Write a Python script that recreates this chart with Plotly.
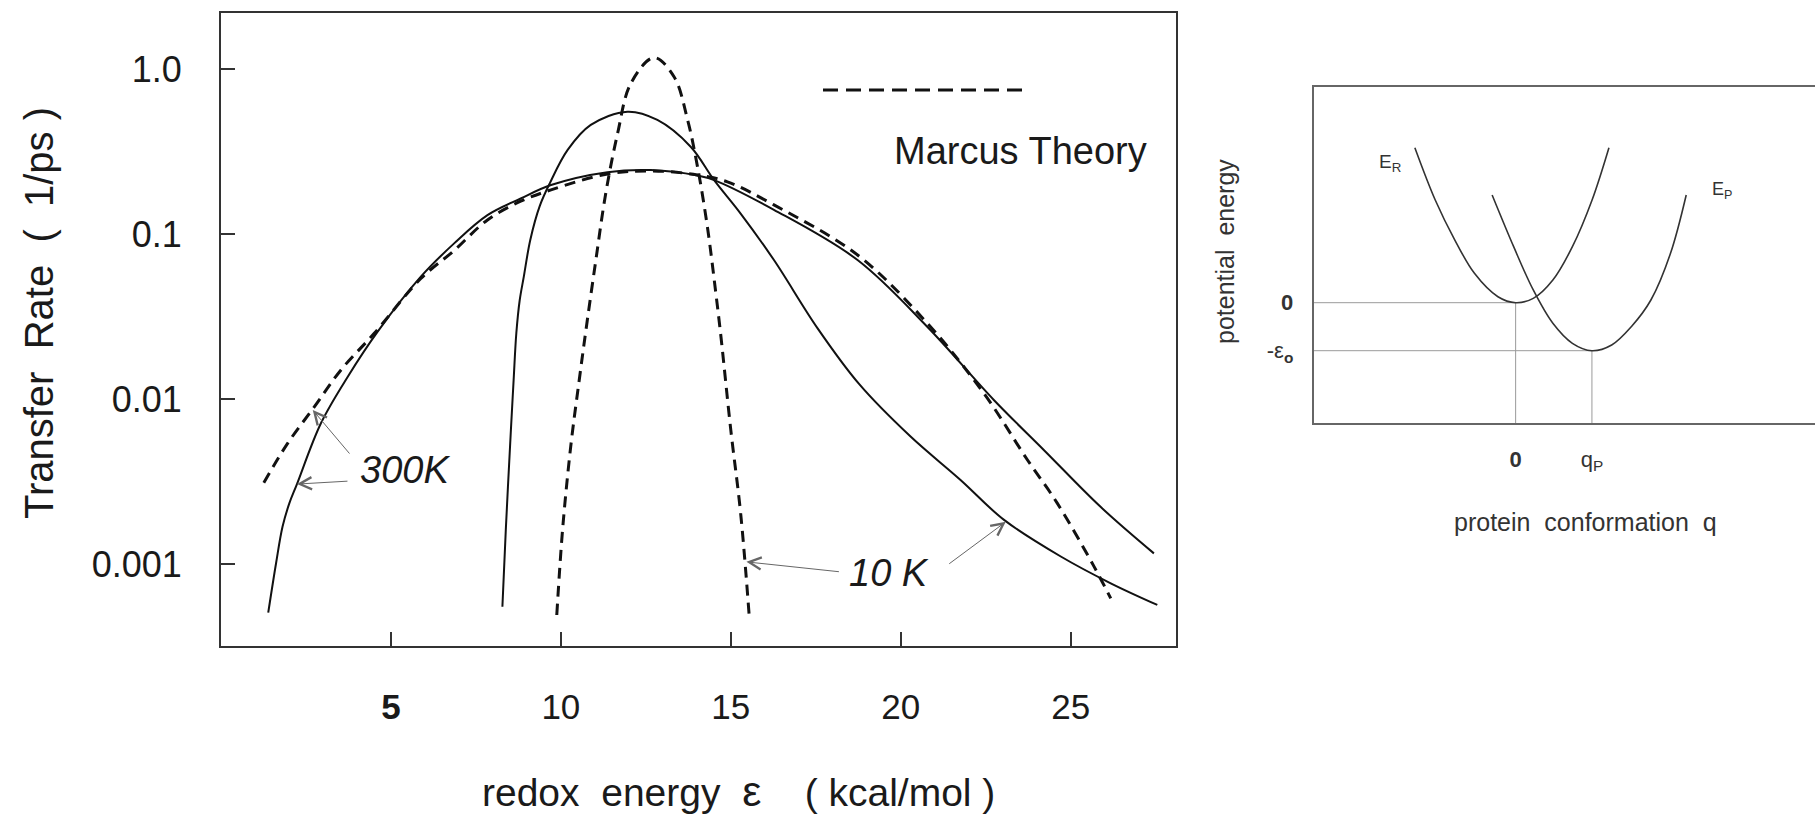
import numpy as np
import plotly.graph_objects as go

# ---------------- main panel data ----------------
# 300 K, simulation (solid)
eps_300K_sim = [1.39, 1.62, 1.81, 2.01, 2.235, 2.94, 3.73, 4.61, 5.88, 6.86, 7.84, 8.82, 9.71,
                11.37, 12.65, 14.02, 14.51, 16.27, 18.73, 20.78, 22.74, 24.21, 25.88, 27.45]
rate_300K_sim = [5.07e-4, 1.01e-3, 1.68e-3, 2.33e-3, 3.05e-3, 7.13e-3, 0.01365, 0.0256, 0.0551,
                 0.0877, 0.130, 0.164, 0.198, 0.237, 0.244, 0.226, 0.212, 0.140, 0.0695, 0.0274,
                 0.00986, 0.00491, 0.00222, 0.00116]
# 300 K, Marcus theory (dashed)
eps_300K_marcus = [1.26, 1.96, 2.75, 3.53, 4.51, 5.88, 6.86, 7.84, 8.82, 9.71, 11.37, 12.65,
                   14.02, 14.90, 16.27, 18.73, 20.78, 22.45, 23.73, 24.61, 25.69, 26.18]
rate_300K_marcus = [3.11e-3, 5.38e-3, 8.99e-3, 0.0150, 0.0250, 0.0537, 0.0794, 0.1216, 0.158,
                    0.185, 0.231, 0.241, 0.228, 0.207, 0.150, 0.0746, 0.0288, 0.0108, 0.00427,
                    0.00233, 9.64e-4, 6.19e-4]
# 10 K, simulation (solid)
eps_10K_sim = [8.28, 8.38, 8.53, 8.61, 8.69, 8.79, 8.91, 9.10, 9.38, 9.68, 10.20, 10.88, 11.96,
               12.84, 13.82, 14.51, 15.29, 16.27, 17.55, 18.78, 20.29, 21.76, 23.04, 24.71,
               26.18, 27.55]
rate_10K_sim = [5.51e-4, 1.61e-3, 6.49e-3, 0.0130, 0.0251, 0.0398, 0.0551, 0.0920, 0.148, 0.204,
                0.323, 0.458, 0.551, 0.491, 0.338, 0.212, 0.133, 0.0695, 0.0269, 0.0123,
                5.92e-3, 3.23e-3, 1.85e-3, 1.11e-3, 7.64e-4, 5.65e-4]
# 10 K, Marcus theory (dashed)
eps_10K_marcus = [9.88, 10.05, 10.29, 10.54, 10.76, 11.03, 11.32, 11.67, 12.06, 12.74, 13.33,
                  13.73, 14.02, 14.31, 14.56, 14.71, 15.00, 15.29, 15.54]
rate_10K_marcus = [4.91e-4, 1.61e-3, 5.14e-3, 0.0130, 0.0282, 0.0695, 0.176, 0.407, 0.818, 1.17,
                   0.897, 0.491, 0.256, 0.111, 0.0438, 0.0239, 6.49e-3, 2.03e-3, 4.91e-4]

x_tick_vals = [5, 10, 15, 20, 25]
x_tick_text = ["<b>5</b>", "10", "15", "20", "25"]
y_tick_vals = [1.0, 0.1, 0.01, 0.001]
y_tick_text = ["1.0", "0.1", "0.01", "0.001"]

# arrow targets on the curves (epsilon, rate) and screen-pixel offsets of the arrow tails
arrow_eps = [2.70, 2.235, 15.46, 23.09]
arrow_rate = [0.00857, 0.00305, 0.00103, 0.0018]
arrow_dx = [38, 52, 94, -58]
arrow_dy = [45, -3, 10, 43]

# ---------------- right panel data (schematic parabolas) ----------------
q_R = [-1.321, -1.054, -0.797, -0.540, -0.232, 0.0, 0.231, 0.488, 0.744, 1.002, 1.223]
E_R = [3.229, 2.140, 1.306, 0.612, 0.125, 0.0, 0.09, 0.473, 1.167, 2.140, 3.229]
q_P = [-0.308, -0.026, 0.231, 0.488, 0.744, 1.0, 1.259, 1.516, 1.773, 2.030, 2.236]
E_P = [2.244, 1.167, 0.265, -0.429, -0.846, -1.0, -0.881, -0.5, 0.056, 1.029, 2.244]
q_minima = [0.0, 1.0]
E_minima = [0.0, -1.0]
q_tick_text = ["<b>0</b>", "q<sub>P</sub>"]
E_tick_text = ["<b>0</b>", "-ε<sub><b>o</b></sub>"]

# ---------------- layout constants ----------------
W, H = 1815, 820
FONT = "Liberation Sans, Arial, sans-serif"
INK = "#1a1a1a"
FRAME = "#333333"


def px(x):
    return x / W


def py(y):
    return 1 - y / H


x1_range = [0.0, 28.1]
y1_range = [-3.497, 0.341]
x2_range = [-2.647, 3.924]
y2_range = [-2.5125, 4.5]

fig = go.Figure()

line_solid = dict(color="#111111", width=2, shape="spline", smoothing=1.0)
line_dash = dict(color="#111111", width=3, dash="11px,7px", shape="spline", smoothing=1.0)

fig.add_trace(go.Scatter(x=eps_300K_sim, y=rate_300K_sim, mode="lines", line=line_solid,
                         name="300K simulation", xaxis="x", yaxis="y"))
fig.add_trace(go.Scatter(x=eps_300K_marcus, y=rate_300K_marcus, mode="lines", line=line_dash,
                         name="300K Marcus", xaxis="x", yaxis="y"))
fig.add_trace(go.Scatter(x=eps_10K_sim, y=rate_10K_sim, mode="lines", line=line_solid,
                         name="10K simulation", xaxis="x", yaxis="y"))
fig.add_trace(go.Scatter(x=eps_10K_marcus, y=rate_10K_marcus, mode="lines", line=line_dash,
                         name="10K Marcus", xaxis="x", yaxis="y"))

# right panel: guide lines to the minima
for qm, Em in zip(q_minima, E_minima):
    fig.add_trace(go.Scatter(x=[x2_range[0], qm], y=[Em, Em], mode="lines",
                             line=dict(color="#9a9a9a", width=1), xaxis="x2", yaxis="y2",
                             hoverinfo="skip"))
    fig.add_trace(go.Scatter(x=[qm, qm], y=[Em, y2_range[0]], mode="lines",
                             line=dict(color="#9a9a9a", width=1), xaxis="x2", yaxis="y2",
                             hoverinfo="skip"))

fig.add_trace(go.Scatter(x=q_R, y=E_R, mode="lines",
                         line=dict(color="#333333", width=1.6, shape="spline", smoothing=1.0),
                         name="E_R", xaxis="x2", yaxis="y2"))
fig.add_trace(go.Scatter(x=q_P, y=E_P, mode="lines",
                         line=dict(color="#333333", width=1.6, shape="spline", smoothing=1.0),
                         name="E_P", xaxis="x2", yaxis="y2"))

annotations = []
# thin grey pointer arrows from the temperature labels to the curves
for e, r, dx, dy in zip(arrow_eps, arrow_rate, arrow_dx, arrow_dy):
    annotations.append(dict(x=e, y=float(np.log10(r)), xref="x", yref="y", text="",
                            showarrow=True, ax=dx, ay=dy, arrowhead=5, arrowsize=2.4,
                            arrowwidth=1, arrowcolor="#666666"))


def label(text, x, y, size, angle=0, italic=False, color=INK):
    return dict(text=text, x=px(x), y=py(y), xref="paper", yref="paper",
                xanchor="center", yanchor="middle", showarrow=False, textangle=angle,
                font=dict(family=FONT, size=size, color=color,
                          style="italic" if italic else "normal"))


annotations += [
    label("Marcus Theory", 1020, 151, 38),
    label("300K", 405, 470, 38, italic=True),
    label("10 K", 889, 573, 38, italic=True),
    label("Transfer  Rate  (  1/ps )", 39, 313, 40, angle=-90),
    label("redox  energy  <span style='font-size:43px'>ε</span>    ( kcal/mol )", 738, 791, 39),
    label("potential  energy", 1225, 252, 25, angle=-90, color="#333333"),
    label("protein  conformation  q", 1585, 522, 25, color="#333333"),
    label("E<sub>R</sub>", 1390, 163, 19, color="#333333"),
    label("E<sub>P</sub>", 1722, 190, 18, color="#333333"),
]

shapes = [
    # legend sample for the dashed (Marcus theory) curves
    dict(type="line", xref="paper", yref="paper", x0=px(823), x1=px(1025), y0=py(90), y1=py(90),
         line=dict(color="#111111", width=3, dash="15px,8px")),
]

axis_common = dict(showgrid=False, zeroline=False, showline=True, linecolor=FRAME, linewidth=2)

fig.update_layout(
    width=W, height=H,
    margin=dict(l=0, r=0, t=0, b=0),
    paper_bgcolor="white", plot_bgcolor="white",
    showlegend=False,
    font=dict(family=FONT, color=INK),
    xaxis=dict(domain=[px(221), px(1176)], range=x1_range, anchor="y",
               tickmode="array", tickvals=x_tick_vals, ticktext=x_tick_text,
               ticks="inside", ticklen=14, tickwidth=2, tickcolor=FRAME, mirror=True,
               ticklabelstandoff=29, tickfont=dict(size=35, family=FONT, color=INK),
               **axis_common),
    yaxis=dict(domain=[py(646), py(12.7)], type="log", range=y1_range, anchor="x",
               tickmode="array", tickvals=y_tick_vals, ticktext=y_tick_text,
               ticks="inside", ticklen=14, tickwidth=2, tickcolor=FRAME, mirror=True,
               ticklabelstandoff=30, tickfont=dict(size=36, family=FONT, color=INK),
               **axis_common),
    xaxis2=dict(domain=[px(1313.7), 1.0], range=x2_range, anchor="y2",
                tickmode="array", tickvals=q_minima, ticktext=q_tick_text, ticks="",
                ticklabelstandoff=15, tickfont=dict(size=22, family=FONT, color="#333333"),
                showgrid=False, zeroline=False, showline=True, linecolor="#666666",
                linewidth=2, mirror=True),
    yaxis2=dict(domain=[py(423.3), py(86.7)], range=y2_range, anchor="x2",
                tickmode="array", tickvals=E_minima, ticktext=E_tick_text, ticks="",
                ticklabelstandoff=14, tickfont=dict(size=22, family=FONT, color="#333333"),
                showgrid=False, zeroline=False, showline=True, linecolor="#666666",
                linewidth=2, mirror=False),
    annotations=annotations,
    shapes=shapes,
)

fig.write_html("out.html")
